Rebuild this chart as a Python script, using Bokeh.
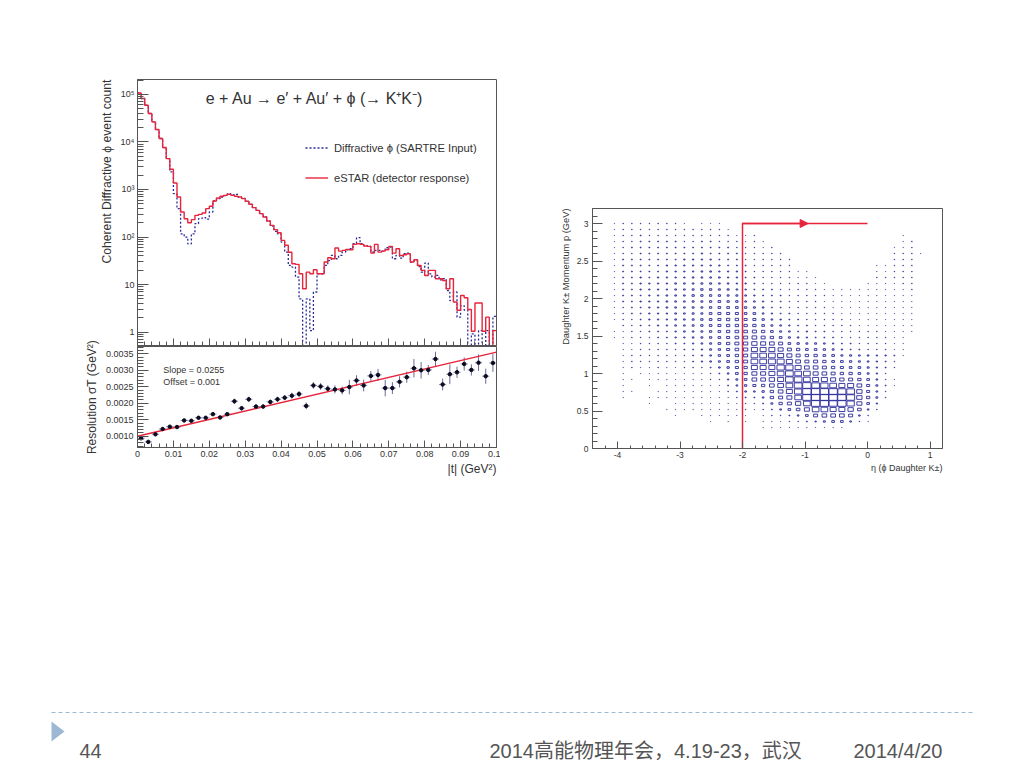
from bokeh.embed import file_html
from bokeh.layouts import column, row
from bokeh.models import (Arrow, FixedTicker, Label, Legend, LegendItem, NormalHead, NumeralTickFormatter, Range1d,
                          SingleIntervalTicker, ColumnDataSource, Title)
from bokeh.plotting import figure
from bokeh.resources import INLINE

FONT = "Liberation Sans"
TEXT = "#333333"
AXIS = "#555555"
RED = "#e8243c"
NAVY = "#2a2a9a"

# |t| histograms, 100 bins of 0.001 GeV^2; 0.1 marks an empty bin
t_bin_width = 0.001
estar_counts = [
    107000, 81700, 59100, 39500, 26400, 18200, 11800, 7600, 4460, 2660,
    1370, 695, 336, 243, 200, 232, 286, 300, 320, 395,
    443, 573, 662, 718, 753, 791, 753, 718, 695, 641,
    564, 488, 415, 364, 310, 264, 217, 176, 143, 123,
    85, 67, 48, 27.5, 26.6, 16.9, 8.2, 18.3, 16.9, 20.5,
    16.9, 16.9, 29.8, 36.7, 35, 58.7, 50.7, 52.4, 55, 54,
    70, 72.4, 70, 64.6, 63.6, 46, 70, 48.3, 50.7, 54,
    63.6, 46, 56.8, 41, 42.5, 44.6, 29.8, 33.3, 25.3, 19.9,
    15.6, 19.9, 19.9, 13.3, 13.3, 12.2, 8.2, 13.3, 4.3, 2.9,
    5.9, 5.3, 3, 1.05, 4.1, 4.1, 1.05, 2.07, 0.1, 1.08,
]
sartre_counts = [
    107000, 81700, 59100, 39500, 26400, 18200, 11800, 7600, 4460, 2336,
    817, 395, 117, 100, 72, 117, 191, 243, 255, 239,
    336, 573, 641, 695, 740, 817, 770, 791, 695, 650,
    564, 488, 415, 364, 310, 264, 217, 170, 132, 117,
    78.5, 48, 25.3, 23.4, 14.4, 5, 0.1, 5, 1.08, 7,
    16.9, 16.9, 25.3, 32, 41, 35, 41, 48.3, 54, 56.8,
    72.4, 97, 72.4, 66.8, 63.6, 48.3, 52.4, 52.4, 50.7, 59.6,
    61.6, 35, 41, 36, 44.6, 46, 29.8, 32, 24, 18.3,
    28.4, 16.9, 14.4, 15.6, 12.6, 13.3, 7.5, 4.6, 7, 2.07,
    3.6, 2.9, 0.1, 0.92, 0.1, 1.08, 0.1, 1.08, 0.1, 2.14,
]

# resolution points
res_t = [
    0.001, 0.003, 0.005, 0.007, 0.009, 0.011, 0.013, 0.015, 0.017, 0.019,
    0.021, 0.023, 0.025, 0.027, 0.029, 0.031, 0.033, 0.035, 0.037, 0.039,
    0.041, 0.043, 0.045, 0.047, 0.049, 0.051, 0.053, 0.055, 0.057, 0.059,
    0.061, 0.063, 0.065, 0.067, 0.069, 0.071, 0.073, 0.075, 0.077, 0.079,
    0.081, 0.083, 0.085, 0.087, 0.089, 0.091, 0.093, 0.095, 0.097, 0.099,
]
res_sigma = [
    0.00094, 0.00083, 0.00106, 0.00122, 0.00129, 0.00128, 0.00148, 0.00147, 0.00156, 0.00156,
    0.00167, 0.00157, 0.00167, 0.00206, 0.00185, 0.00212, 0.0019, 0.0019, 0.00204, 0.00212,
    0.00217, 0.00223, 0.00228, 0.00192, 0.00254, 0.00251, 0.00244, 0.00242, 0.00239, 0.00249,
    0.00269, 0.00254, 0.00283, 0.00286, 0.00246, 0.00246, 0.00265, 0.00279, 0.00306, 0.003,
    0.00301, 0.00334, 0.00257, 0.00288, 0.00294, 0.00319, 0.00301, 0.00323, 0.00282, 0.00322,
]
res_err = [
    0.00003, 0.00003, 0.00003, 0.00003, 0.00003, 0.00004, 0.00004, 0.00004, 0.00005, 0.00005,
    0.00005, 0.00005, 0.00005, 0.00008, 0.00007, 0.00008, 0.00007, 0.00007, 0.00007, 0.00008,
    0.00008, 0.00009, 0.00009, 0.0001, 0.0001, 0.0001, 0.0001, 0.00012, 0.00012, 0.00022,
    0.00016, 0.00018, 0.00015, 0.00018, 0.00025, 0.00018, 0.00017, 0.00017, 0.00028, 0.00025,
    0.00015, 0.00022, 0.00018, 0.0003, 0.00017, 0.0002, 0.00017, 0.00025, 0.00023, 0.00027,
]
fit_t = [0, 0.1]
fit_sigma = [0.001, 0.00355]

log_ticks = [1, 10, 100, 1000, 10000, 100000]
log_tick_labels = ["1", "10", "10²", "10³", "10⁴", "10⁵"]
t_ticks = [0, 0.01, 0.02, 0.03, 0.04, 0.05, 0.06, 0.07, 0.08, 0.09, 0.1]

# eta / p box histogram: rows from p = 3.0 down to p = 0.28, columns eta = -4.05 ... 0.85
eta_first = -4.05
eta_step = 0.14
p_first = 3.0
p_step = 0.08
box_counts = [
    [2, 6, 6, 6, 6, 6, 6, 6, 2, 0, 2, 2, 2, 0, 0, 0, 0, 0, 0, 0, 0, 0, 0, 0, 0, 0, 0, 0, 0, 0, 0, 0, 0, 0, 0, 0],
    [2, 6, 6, 6, 6, 6, 6, 6, 6, 6, 6, 6, 6, 2, 0, 0, 0, 0, 0, 0, 0, 0, 0, 0, 0, 0, 0, 0, 0, 0, 0, 0, 0, 0, 0, 0],
    [2, 6, 6, 13, 6, 6, 6, 6, 6, 6, 6, 6, 6, 6, 2, 2, 6, 0, 0, 0, 0, 0, 0, 0, 0, 0, 0, 0, 0, 0, 0, 0, 0, 2, 0, 0],
    [2, 6, 6, 13, 13, 13, 13, 13, 6, 6, 13, 13, 6, 6, 6, 2, 6, 2, 0, 0, 0, 0, 0, 0, 0, 0, 0, 0, 0, 0, 0, 0, 0, 2, 6, 0],
    [2, 6, 13, 13, 13, 13, 13, 13, 13, 13, 13, 13, 13, 13, 6, 6, 6, 2, 6, 0, 0, 0, 0, 0, 0, 0, 0, 0, 0, 0, 0, 0, 2, 2, 6, 0],
    [2, 6, 6, 13, 13, 13, 13, 13, 13, 13, 23, 13, 13, 13, 13, 6, 6, 6, 6, 6, 0, 0, 0, 0, 0, 0, 0, 0, 0, 0, 0, 0, 6, 6, 6, 2],
    [2, 13, 13, 13, 13, 13, 13, 13, 23, 23, 23, 23, 13, 13, 13, 6, 6, 6, 6, 6, 6, 0, 0, 0, 0, 0, 0, 0, 0, 0, 0, 0, 6, 6, 6, 0],
    [2, 13, 13, 13, 13, 13, 23, 23, 23, 23, 23, 23, 23, 13, 13, 13, 6, 6, 6, 6, 6, 0, 0, 0, 0, 0, 0, 0, 0, 0, 2, 2, 6, 6, 6, 0],
    [2, 13, 13, 13, 13, 13, 23, 23, 23, 23, 36, 36, 23, 23, 23, 13, 6, 6, 6, 6, 6, 2, 2, 0, 0, 0, 0, 0, 0, 0, 2, 2, 6, 6, 6, 0],
    [2, 13, 13, 23, 13, 23, 23, 23, 23, 36, 36, 36, 36, 23, 23, 13, 13, 6, 6, 6, 6, 2, 2, 2, 0, 0, 0, 0, 0, 0, 6, 6, 6, 6, 6, 0],
    [2, 13, 13, 23, 23, 23, 23, 36, 36, 36, 52, 52, 36, 36, 23, 23, 13, 6, 6, 6, 6, 6, 6, 2, 2, 0, 0, 0, 0, 2, 2, 2, 2, 6, 6, 0],
    [2, 13, 13, 23, 23, 23, 23, 36, 36, 52, 71, 71, 52, 52, 36, 23, 13, 13, 13, 6, 6, 6, 6, 6, 2, 2, 2, 2, 2, 2, 2, 2, 2, 2, 6, 0],
    [2, 13, 13, 13, 23, 23, 36, 36, 36, 71, 71, 71, 71, 52, 52, 36, 23, 13, 13, 13, 6, 6, 6, 6, 6, 2, 2, 2, 2, 2, 2, 2, 2, 2, 2, 0],
    [2, 13, 13, 23, 23, 23, 36, 36, 36, 52, 52, 71, 93, 71, 71, 36, 36, 23, 13, 13, 6, 6, 6, 6, 2, 2, 2, 2, 2, 2, 2, 2, 2, 2, 2, 0],
    [2, 6, 13, 13, 23, 23, 36, 36, 36, 52, 52, 71, 93, 93, 93, 71, 52, 36, 13, 13, 6, 6, 6, 6, 6, 2, 2, 2, 2, 2, 2, 2, 2, 2, 2, 0],
    [2, 6, 13, 13, 23, 23, 23, 36, 36, 52, 52, 93, 118, 118, 118, 93, 93, 36, 23, 13, 13, 6, 6, 6, 6, 6, 2, 2, 2, 2, 2, 2, 2, 2, 2, 0],
    [2, 6, 6, 13, 23, 23, 23, 36, 36, 52, 71, 93, 118, 145, 145, 118, 118, 71, 36, 23, 13, 13, 6, 6, 6, 6, 6, 2, 2, 2, 2, 2, 2, 2, 2, 0],
    [0, 6, 6, 13, 13, 23, 23, 36, 36, 52, 71, 93, 118, 145, 145, 145, 145, 93, 52, 36, 23, 13, 13, 6, 6, 6, 6, 6, 2, 2, 2, 2, 2, 2, 2, 0],
    [2, 2, 6, 6, 13, 13, 13, 23, 36, 36, 52, 71, 93, 145, 170, 170, 209, 145, 93, 52, 36, 13, 23, 13, 13, 6, 6, 6, 6, 6, 6, 2, 2, 2, 2, 0],
    [2, 2, 6, 6, 6, 13, 13, 23, 23, 36, 52, 71, 93, 118, 170, 209, 284, 209, 145, 93, 52, 36, 23, 13, 13, 13, 6, 6, 6, 6, 6, 6, 2, 2, 0, 0],
    [0, 2, 2, 6, 6, 6, 6, 13, 13, 23, 36, 52, 93, 145, 209, 240, 372, 327, 284, 209, 93, 71, 52, 52, 36, 23, 13, 13, 6, 6, 6, 6, 2, 2, 0, 0],
    [0, 2, 2, 6, 6, 6, 6, 6, 13, 13, 23, 52, 71, 118, 170, 240, 470, 470, 470, 327, 209, 145, 93, 93, 71, 52, 23, 13, 13, 6, 6, 6, 2, 2, 0, 0],
    [0, 2, 6, 6, 6, 6, 6, 6, 6, 13, 23, 36, 71, 93, 145, 209, 580, 580, 580, 470, 327, 209, 145, 145, 93, 93, 52, 52, 36, 36, 23, 23, 13, 2, 0, 0],
    [0, 2, 6, 6, 6, 6, 6, 6, 6, 13, 23, 36, 52, 93, 145, 209, 580, 580, 640, 640, 470, 284, 209, 209, 145, 93, 93, 71, 52, 36, 23, 13, 6, 0, 0, 0],
    [0, 2, 6, 2, 2, 6, 2, 2, 6, 6, 6, 13, 36, 71, 118, 145, 470, 470, 470, 702, 702, 470, 284, 284, 209, 145, 118, 93, 93, 52, 23, 13, 6, 0, 0, 0],
    [0, 2, 0, 2, 2, 2, 2, 2, 2, 2, 2, 6, 13, 36, 93, 145, 327, 327, 470, 580, 768, 580, 580, 327, 284, 209, 145, 145, 93, 52, 23, 6, 0, 0, 0, 0],
    [0, 2, 2, 0, 2, 2, 2, 2, 2, 2, 2, 6, 6, 23, 52, 93, 284, 284, 372, 470, 768, 768, 580, 470, 470, 327, 245, 209, 145, 93, 36, 6, 2, 0, 0, 0],
    [0, 2, 0, 0, 2, 0, 2, 2, 2, 2, 2, 2, 2, 13, 36, 71, 118, 145, 284, 420, 580, 768, 907, 768, 702, 580, 470, 470, 284, 118, 52, 13, 2, 0, 0, 0],
    [0, 2, 2, 0, 0, 2, 2, 2, 2, 2, 2, 2, 2, 6, 13, 36, 36, 71, 145, 284, 470, 702, 907, 907, 907, 907, 836, 768, 372, 118, 36, 6, 0, 0, 0, 0],
    [0, 2, 0, 0, 2, 2, 2, 2, 2, 2, 2, 2, 2, 2, 6, 13, 13, 36, 145, 209, 327, 580, 907, 907, 907, 907, 907, 836, 372, 145, 52, 6, 0, 0, 0, 0],
    [0, 0, 0, 0, 2, 0, 0, 2, 2, 2, 2, 2, 2, 2, 2, 6, 6, 13, 52, 145, 209, 372, 580, 907, 907, 836, 907, 702, 327, 93, 23, 0, 0, 0, 0, 0],
    [0, 0, 0, 0, 0, 0, 2, 2, 2, 2, 2, 2, 2, 2, 2, 6, 2, 6, 13, 36, 93, 170, 327, 580, 580, 470, 470, 372, 170, 36, 6, 0, 0, 0, 0, 0],
    [0, 0, 0, 0, 0, 0, 0, 2, 0, 0, 2, 2, 2, 2, 2, 2, 0, 2, 6, 6, 13, 36, 93, 209, 284, 284, 284, 209, 36, 6, 0, 0, 0, 0, 0, 0],
    [0, 0, 0, 0, 0, 0, 0, 0, 0, 0, 0, 2, 0, 2, 0, 2, 0, 2, 2, 2, 6, 6, 13, 23, 52, 93, 93, 36, 6, 2, 0, 0, 0, 0, 0, 0],
    [0, 0, 0, 0, 0, 0, 0, 0, 0, 0, 0, 0, 0, 0, 0, 0, 0, 2, 2, 2, 2, 2, 2, 2, 2, 2, 2, 0, 0, 0, 0, 0, 0, 0, 0, 0],
]
box_full_count = 1000
cut_eta = [-2, -2, 0]
cut_p = [0, 3, 3]


def style_axes(p, size="9px"):
    for ax in (p.xaxis[0], p.yaxis[0]):
        ax.axis_line_color = AXIS
        ax.major_tick_line_color = AXIS
        ax.minor_tick_line_color = AXIS
        ax.major_tick_out = 0
        ax.minor_tick_out = 0
        ax.major_label_text_font = FONT
        ax.major_label_text_font_size = size
        ax.major_label_text_color = TEXT
        ax.axis_label_text_font = FONT
        ax.axis_label_text_font_style = "normal"
        ax.axis_label_text_color = TEXT
    p.grid.visible = False
    p.outline_line_color = AXIS
    p.outline_line_width = 1


def side_title(text, size, standoff):
    # ROOT pushes axis titles to the end of the axis, a plain axis label stays centred
    return Title(text=text, align="right", text_font=FONT, text_font_size=size, text_font_style="normal",
                 text_color=TEXT, standoff=standoff)


# top left: event counts
top = figure(width=500, height=346, output_backend="svg", toolbar_location=None, y_axis_type="log",
             x_range=Range1d(0, 0.1), y_range=Range1d(0.525, 205000),
             min_border_left=137, min_border_right=4, min_border_top=79, min_border_bottom=1)
edges = [i * t_bin_width for i in range(len(estar_counts) + 1)]
sartre_line = top.step(edges, sartre_counts + sartre_counts[-1:], mode="after", color=NAVY, line_width=1.3,
                       line_dash=[2, 2])
estar_line = top.step(edges, estar_counts + estar_counts[-1:], mode="after", color=RED, line_width=1.4)
style_axes(top)
top.xaxis[0].ticker = FixedTicker(ticks=t_ticks, minor_ticks=[i * 0.002 for i in range(51)])
top.xaxis[0].major_tick_in = 7
top.xaxis[0].minor_tick_in = 4
top.xaxis[0].major_label_overrides = {t: "" for t in t_ticks}
top.xaxis[0].major_label_standoff = 0
top.yaxis[0].ticker = FixedTicker(ticks=log_ticks,
                                  minor_ticks=[m * 10 ** d for d in range(-1, 6) for m in range(2, 10)])
top.yaxis[0].major_label_overrides = dict(zip(log_ticks, log_tick_labels))
top.yaxis[0].major_tick_in = 11
top.yaxis[0].minor_tick_in = 6
top.yaxis[0].major_label_standoff = 3
top.add_layout(side_title("Coherent Diffractive ϕ event count", "12.2px", 8), "left")
top.add_layout(Label(x=0.019, y=83000, text="e + Au → e′ + Au′ + ϕ (→ K⁺K⁻)", text_font=FONT,
                     text_font_size="16px", text_color=TEXT, text_baseline="middle"))
top.add_layout(Legend(items=[LegendItem(label="Diffractive ϕ (SARTRE Input)", renderers=[sartre_line]),
                             LegendItem(label="eSTAR (detector response)", renderers=[estar_line])],
                      location=(168, 161), padding=0, margin=0, spacing=17, glyph_width=23, glyph_height=13,
                      label_height=13, label_standoff=6, border_line_color=None, background_fill_alpha=0,
                      label_text_font=FONT, label_text_font_size="11.2px", label_text_color=TEXT))

# bottom left: resolution; the canvas reaches up over the top panel so its tall label is not cut
bottom = figure(width=500, height=146, output_backend="svg", toolbar_location=None,
                x_range=Range1d(0, 0.1), y_range=Range1d(0.00066, 0.00372),
                min_border_left=137, min_border_right=4, min_border_top=12, min_border_bottom=33,
                margin=(-12, 0, 0, 0), border_fill_color=None)
src = ColumnDataSource(dict(t=res_t, sigma=res_sigma,
                            lo=[s - e for s, e in zip(res_sigma, res_err)],
                            hi=[s + e for s, e in zip(res_sigma, res_err)],
                            t_lo=[t - 0.001 for t in res_t], t_hi=[t + 0.001 for t in res_t]))
bottom.segment("t", "lo", "t", "hi", source=src, color="#6a6a98", line_width=1)
bottom.segment("t_lo", "sigma", "t_hi", "sigma", source=src, color="#6a6a98", line_width=0.8)
bottom.line(fit_t, fit_sigma, color=RED, line_width=1.5)
bottom.scatter("t", "sigma", source=src, size=3.5, color="#0a0a20")
style_axes(bottom)
bottom.xaxis[0].ticker = FixedTicker(ticks=t_ticks, minor_ticks=[i * 0.002 for i in range(51)])
bottom.xaxis[0].major_tick_in = 7
bottom.xaxis[0].minor_tick_in = 4
bottom.xaxis[0].formatter = NumeralTickFormatter(format="0.[00]")
bottom.xaxis[0].major_label_standoff = 3
bottom.yaxis[0].ticker = SingleIntervalTicker(interval=0.0005, num_minor_ticks=5)
bottom.yaxis[0].formatter = NumeralTickFormatter(format="0.0000")
bottom.yaxis[0].major_tick_in = 11
bottom.yaxis[0].minor_tick_in = 6
bottom.yaxis[0].major_label_standoff = 4
bottom.yaxis[0].axis_label = "Resolution σT (GeV²)"
bottom.yaxis[0].axis_label_text_font_size = "12px"
bottom.yaxis[0].axis_label_standoff = 4
for y, txt in [(0.00300, "Slope = 0.0255"), (0.00264, "Offset = 0.001")]:
    bottom.add_layout(Label(x=0.0072, y=y, text=txt, text_font=FONT, text_font_size="9px", text_color=TEXT,
                            text_baseline="middle"))
bottom.add_layout(side_title("|t| (GeV²)", "12px", 1), "below")

# right: eta vs momentum boxes
right = figure(width=450, height=480, output_backend="svg", toolbar_location=None,
               x_range=Range1d(-4.4, 1.2), y_range=Range1d(0, 3.2),
               min_border_left=92, min_border_right=8, min_border_top=208, min_border_bottom=32)
box_eta, box_p, box_w, box_h = [], [], [], []
for r, counts in enumerate(box_counts):
    for c, n in enumerate(counts):
        if n > 0:
            frac = (n / box_full_count) ** 0.5
            box_eta.append(eta_first + c * eta_step)
            box_p.append(p_first - r * p_step)
            box_w.append(eta_step * frac)
            box_h.append(p_step * frac)
right.rect(box_eta, box_p, box_w, box_h, fill_color=None, line_color=NAVY, line_width=0.9)
right.line(cut_eta, cut_p, color=RED, line_width=1.5)
right.add_layout(Arrow(end=NormalHead(size=8, fill_color=RED, line_color=RED), x_start=-2, y_start=3, x_end=-0.95,
                       y_end=3, line_color=RED, line_width=1.5))
style_axes(right, "8.5px")
right.xaxis[0].ticker = FixedTicker(ticks=[-4, -3, -2, -1, 0, 1],
                                    minor_ticks=[-4.2 + 0.2 * i for i in range(27)])
right.xaxis[0].major_label_overrides = {-4: "-4", -3: "-3", -2: "-2", -1: "-1", 0: "0", 1: "1"}
right.xaxis[0].major_tick_in = 7
right.xaxis[0].minor_tick_in = 3
right.xaxis[0].major_label_standoff = 3
right.yaxis[0].ticker = SingleIntervalTicker(interval=0.5, num_minor_ticks=5)
right.yaxis[0].major_label_overrides = {0: "0", 0.5: "0.5", 1: "1", 1.5: "1.5", 2: "2", 2.5: "2.5", 3: "3"}
right.yaxis[0].major_tick_in = 10
right.yaxis[0].minor_tick_in = 5
right.yaxis[0].major_label_standoff = 4
right.add_layout(side_title("Daughter K± Momentum p (GeV)", "9.3px", 5), "left")
right.add_layout(side_title("η (ϕ Daughter K±)", "9px", 1), "below")

# slide footer, drawn in page pixels
footer = figure(width=1008, height=280, output_backend="svg", toolbar_location=None,
                x_range=Range1d(0, 1008), y_range=Range1d(760, 480),
                min_border_left=0, min_border_right=0, min_border_top=0, min_border_bottom=0)
footer.axis.visible = False
footer.grid.visible = False
footer.outline_line_color = None
footer.line([51, 972], [712, 712], color="#9ab8d0", line_width=1, line_dash=[4, 3])
footer.patch([51, 64, 51], [721, 731, 741], color="#9db8d5", line_color=None)
for x, txt in [(79, "44"), (489, "2014高能物理年会，4.19-23，武汉"), (853, "2014/4/20")]:
    footer.add_layout(Label(x=x, y=750, text=txt, text_font=f"{FONT}, Noto Sans CJK SC", text_font_size="20px",
                            text_color="#555555", text_baseline="middle"))

page = column(row(column(top, bottom), right), footer)
open("out.html", "w", encoding="utf-8").write(file_html(page, INLINE))
